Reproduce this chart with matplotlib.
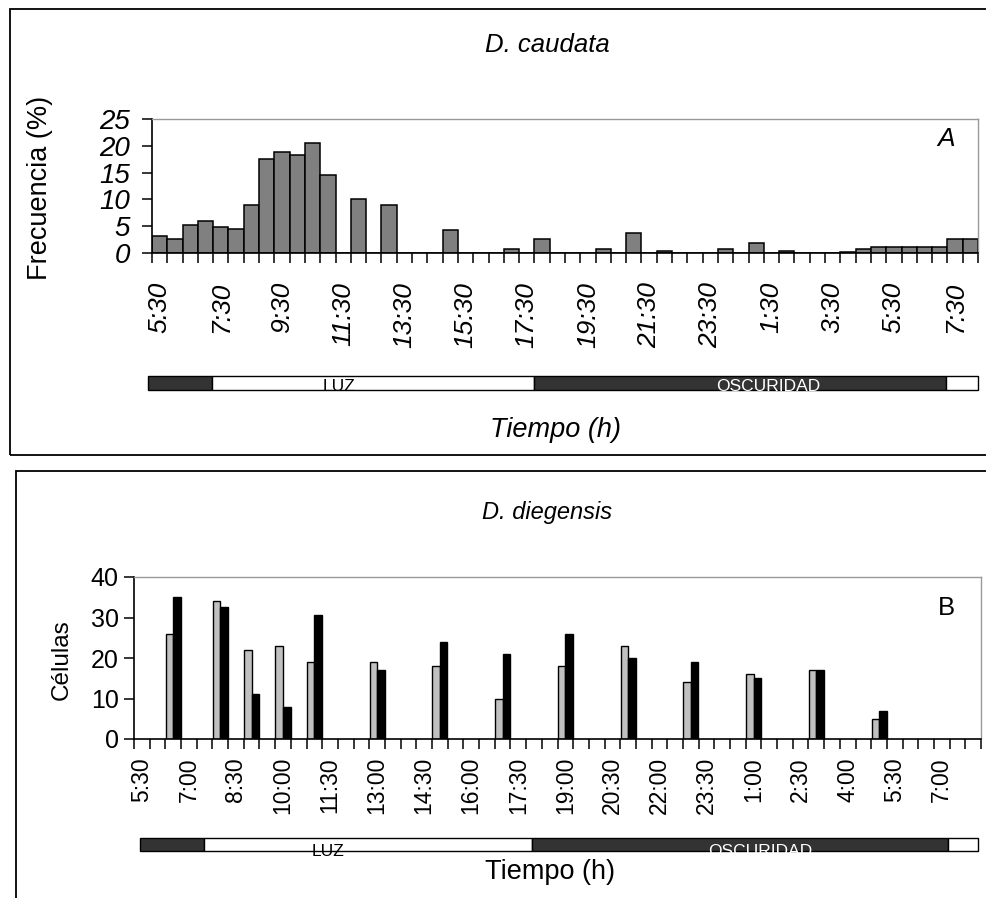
import matplotlib
matplotlib.use("Agg")
import matplotlib.pyplot as plt
from matplotlib.patches import Rectangle

plt.rcParams["font.family"] = ["Liberation Sans", "DejaVu Sans"]

# panel A: D. caudata, frequency (%) per half-hour bin starting 5:30
freq_a = [3.1, 2.6, 5.3, 6.0, 4.9, 4.5, 9.0, 17.6, 18.8, 18.3, 20.6, 14.6, 0, 10.1,
          0, 9.0, 0, 0, 0, 4.2, 0, 0, 0, 0.8, 0, 2.6, 0, 0, 0, 0.75, 0, 3.7, 0, 0.4,
          0, 0, 0, 0.75, 0, 1.9, 0, 0.4, 0, 0, 0, 0.2, 0.75, 1.2, 1.2, 1.2, 1.2, 1.2,
          2.6, 2.6]
ticks_a = ["5:30", "7:30", "9:30", "11:30", "13:30", "15:30", "17:30", "19:30",
           "21:30", "23:30", "1:30", "3:30", "5:30", "7:30"]

# panel B: D. diegensis, cells per sampling time (two series)
times_b = ["6:30", "8:00", "9:00", "10:00", "11:00", "13:00", "15:00", "17:00",
           "19:00", "21:00", "23:00", "1:00", "3:00", "5:00"]
cells_gray = [26, 34, 22, 23, 19, 19, 18, 10, 18, 23, 14, 16, 17, 5]
cells_black = [35, 32.5, 11, 8, 30.5, 17, 24, 21, 26, 20, 19, 15, 17, 7]
ticks_b = ["5:30", "7:00", "8:30", "10:00", "11:30", "13:00", "14:30", "16:00",
           "17:30", "19:00", "20:30", "22:00", "23:30", "1:00", "2:30", "4:00",
           "5:30", "7:00"]

# light/dark phases, in hours after 5:30
phases_a = [(-0.13, 1.96, "#333333"), (1.96, 12.5, "white"), (12.5, 25.95, "#333333"), (25.95, 27.0, "white")]
phases_b = [(0.19, 2.23, "#333333"), (2.23, 12.68, "white"), (12.68, 25.95, "#333333"), (25.95, 26.9, "white")]

N_BINS = 54
W, H = 986, 898


def fx(px):
    return px / W


def fy(py):
    return 1 - py / H


def time_index(t):
    h, m = t.split(":")
    hours = int(h) + int(m) / 60
    return int(round(((hours - 5.5) % 24) * 2))


def style_axes(ax, ymax, ystep, every, labels, italic, fsize, pad, ysize, ypad):
    ax.set_xlim(0, N_BINS)
    ax.set_ylim(0, ymax)
    ax.set_yticks(range(0, ymax + 1, ystep))
    ax.set_xticks(range(N_BINS + 1))
    ax.set_xticklabels([])
    ax.set_xticks([i * every + 0.5 for i in range(len(labels))], minor=True)
    ax.set_xticklabels(labels, minor=True, rotation=90, fontsize=fsize,
                       fontstyle="italic" if italic else "normal", va="top")
    ax.tick_params(axis="x", which="major", direction="out", length=7.5, width=1.1)
    ax.tick_params(axis="x", which="minor", length=0, pad=pad)
    ax.tick_params(axis="y", direction="out", length=7, width=1.1, labelsize=ysize, pad=ypad)
    for lab in ax.get_yticklabels():
        lab.set_fontstyle("italic" if italic else "normal")
    ax.spines["left"].set_linewidth(1.2)
    ax.spines["bottom"].set_linewidth(1.2)
    for s in ("top", "right"):
        ax.spines[s].set_color("#999999")
        ax.spines[s].set_linewidth(1.0)


def light_bar(fig, rect, phases, luz_x, osc_x, ty):
    lb = fig.add_axes(rect)
    lb.set_xlim(0, N_BINS)
    lb.set_ylim(0, 1)
    for start, end, color in phases:
        lb.barh(0.5, (end - start) * 2, left=start * 2, height=1.0, color=color,
                edgecolor="black", linewidth=1.0, clip_on=False)
    lb.text(luz_x, ty, "LUZ", ha="center", va="center", fontsize=12.5, color="black", clip_on=False)
    lb.text(osc_x, ty, "OSCURIDAD", ha="center", va="center", fontsize=12.5, color="white", clip_on=False)
    lb.axis("off")
    return lb


fig = plt.figure(figsize=(W / 100, H / 100), dpi=100)

# panel frames
fig.patches.append(Rectangle((fx(10), fy(455)), 1.0, fy(9) - fy(455), transform=fig.transFigure,
                             fill=False, edgecolor="black", linewidth=1.3))
fig.patches.append(Rectangle((fx(16), fy(905)), 1.0, fy(471) - fy(905), transform=fig.transFigure,
                             fill=False, edgecolor="black", linewidth=1.3, clip_on=False))

# ---- panel A ----
ax_a = fig.add_axes([fx(152), fy(253), fx(978) - fx(152), fy(119) - fy(253)])
ax_a.bar(range(N_BINS), freq_a, width=1.0, align="edge", color="#808080",
         edgecolor="black", linewidth=1.1)
style_axes(ax_a, 25, 5, 4, ticks_a, True, 19, 21, 20, 9)
fig.text(fx(547), fy(45), "D. caudata", ha="center", va="center", fontsize=18.5, fontstyle="italic")
fig.text(fx(40), fy(188), "Frecuencia (%)", ha="center", va="center", rotation=90, fontsize=19.5)
fig.text(fx(946), fy(139), "A", ha="center", va="center", fontsize=19, fontstyle="italic")
light_bar(fig, [fx(152), fy(390), fx(978) - fx(152), fy(376) - fy(390)], phases_a, 12.2, 40.3, 0.25)
fig.text(fx(555), fy(430), "Tiempo (h)", ha="center", va="center", fontsize=19.5, fontstyle="italic")

# ---- panel B ----
ax_b = fig.add_axes([fx(134), fy(739), fx(981) - fx(134), fy(577) - fy(739)])
idx_b = [time_index(t) for t in times_b]
ax_b.bar([i + 0.02 for i in idx_b], cells_gray, width=0.48, align="edge", color="#c0c0c0",
         edgecolor="black", linewidth=1.0)
ax_b.bar([i + 0.5 for i in idx_b], cells_black, width=0.48, align="edge", color="black",
         edgecolor="black", linewidth=1.0)
style_axes(ax_b, 40, 10, 3, ticks_b, False, 16.5, 13, 18, 4)
fig.text(fx(547), fy(512), "D. diegensis", ha="center", va="center", fontsize=17, fontstyle="italic")
fig.text(fx(62), fy(660), "Células", ha="center", va="center", rotation=90, fontsize=17.5)
fig.text(fx(946), fy(608), "B", ha="center", va="center", fontsize=18.5)
light_bar(fig, [fx(134), fy(851), fx(981) - fx(134), fy(838) - fy(851)], phases_b, 12.4, 39.9, 0.0)
fig.text(fx(550), fy(872), "Tiempo (h)", ha="center", va="center", fontsize=19.5)

fig.savefig("out.png", dpi=100)
